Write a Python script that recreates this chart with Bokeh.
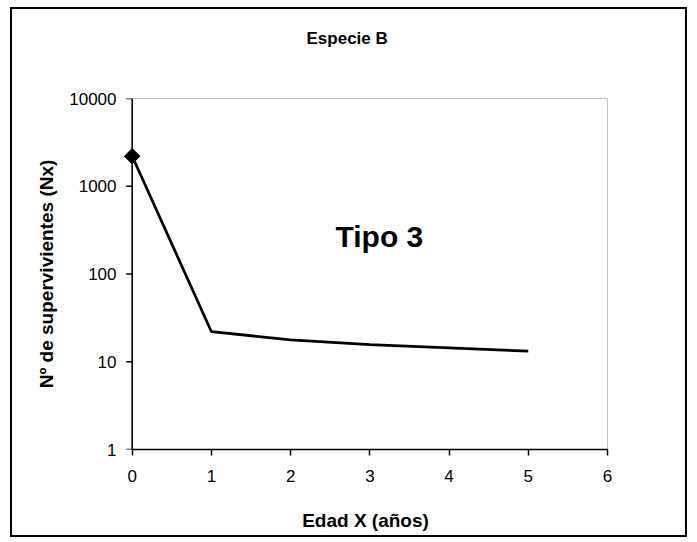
import math
from bokeh.plotting import figure
from bokeh.models import FixedTicker, Label, Title, CustomJSTickFormatter, BoxAnnotation, Span
from bokeh.embed import file_html
from bokeh.resources import INLINE

# Data
edad = [0, 1, 2, 3, 4, 5]
nx = [2200, 22, 17.8, 15.7, 14.4, 13.2]
x_ticks = [0, 1, 2, 3, 4, 5, 6]
y_ticks = [1, 10, 100, 1000, 10000]
title_text = "Especie B"
x_title = "Edad X (años)"
y_title = "Nº de supervivientes (Nx)"
note_text = "Tipo 3"

FONT = "Liberation Sans"
X_PAD = 0.11  # extra room left of x=0 so the first marker is not clipped

p = figure(width=677, height=530, y_axis_type="log",
           x_range=(x_ticks[0] - X_PAD, x_ticks[-1]), y_range=(y_ticks[0], y_ticks[-1]),
           output_backend="svg", toolbar_location=None,
           min_border_left=111, min_border_right=82,
           min_border_top=89, min_border_bottom=90,
           styles={"margin-left": "10px", "margin-top": "7px",
                   "border": "2px solid black"})
p.background_fill_color = "white"
p.border_fill_color = "white"
p.outline_line_color = None
p.xgrid.visible = False
p.ygrid.visible = False

# grey plot-area frame (top and right visible)
p.add_layout(BoxAnnotation(left=x_ticks[0], right=x_ticks[-1], bottom=y_ticks[0], top=y_ticks[-1],
                           fill_color=None, fill_alpha=0, line_color="#808080", line_alpha=1,
                           line_width=1, level="underlay"))

for ax in (p.xaxis[0], p.yaxis[0]):
    ax.axis_line_color = "black"
    ax.axis_line_width = 1.5
    ax.major_tick_line_color = "black"
    ax.major_tick_line_width = 1.5
    ax.major_tick_out = 6
    ax.major_tick_in = 0
    ax.minor_tick_line_color = None
    ax.major_label_text_font = FONT
    ax.major_label_text_font_size = "17px"
    ax.major_label_text_color = "black"
    ax.axis_label_text_font = FONT
    ax.axis_label_text_font_size = "19px"
    ax.axis_label_text_font_style = "bold"
    ax.axis_label_text_color = "black"

p.xaxis.ticker = FixedTicker(ticks=x_ticks)
p.xaxis.bounds = (x_ticks[0], x_ticks[-1])
p.xaxis.axis_label = x_title
p.xaxis.major_label_standoff = 14
p.xaxis.axis_label_standoff = 25

# y axis: labels from the axis; its rule and ticks are drawn at x = 0 below
p.yaxis.ticker = FixedTicker(ticks=y_ticks)
p.yaxis.formatter = CustomJSTickFormatter(code="return tick.toFixed(0);")
p.yaxis.axis_label = y_title
p.yaxis.axis_line_color = None
p.yaxis.major_tick_line_color = None
p.yaxis.major_tick_out = 0
p.yaxis.major_label_standoff = 7
p.yaxis.axis_label_standoff = 9

p.add_layout(Span(location=x_ticks[0], dimension="height", line_color="black", line_width=1.5))
p.ray(x=[x_ticks[0]] * len(y_ticks), y=y_ticks, length=6, length_units="screen",
      angle=math.pi, line_color="black", line_width=1.5)

p.line(edad, nx, line_color="black", line_width=2.75)
p.scatter(edad[:1], nx[:1], marker="square", angle=math.pi / 4, size=11,
          fill_color="black", line_color="black")

p.add_layout(Label(x=3.12, y=267, text=note_text, text_align="center", text_baseline="middle",
                   text_font=FONT, text_font_size="30px", text_font_style="bold", text_color="black"))

spacer = Title(text=" ", text_font_size="20px", standoff=22)
p.add_layout(spacer, "above")
t = Title(text=title_text, align="left", offset=174 + 9, text_font=FONT,
          text_font_size="17px", text_font_style="bold", text_color="black")
p.add_layout(t, "above")

open("out.html", "w").write(file_html(p, INLINE))
